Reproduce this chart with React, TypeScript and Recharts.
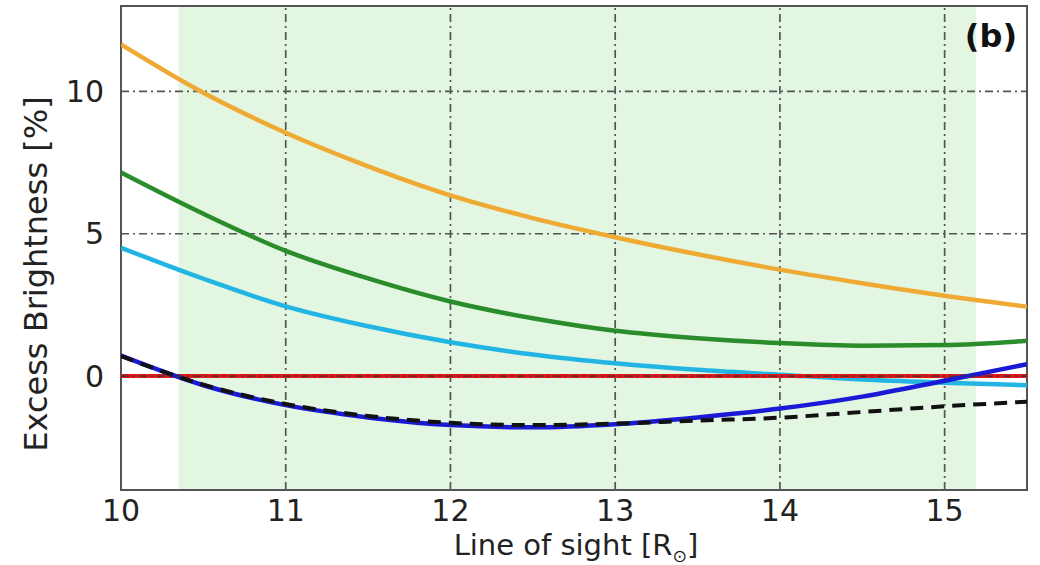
import React from "react";
import {
  LineChart,
  Line,
  XAxis,
  YAxis,
  ReferenceArea,
  ReferenceLine,
} from "recharts";

const losValues = [10, 10.5, 11, 11.5, 12, 12.5, 13, 13.5, 14, 14.5, 15, 15.5];
const orangeValues = [11.65, 9.95, 8.55, 7.37, 6.35, 5.55, 4.88, 4.28, 3.74, 3.26, 2.82, 2.44];
const greenValues = [7.15, 5.7, 4.4, 3.43, 2.62, 2.03, 1.59, 1.33, 1.16, 1.07, 1.09, 1.24];
const cyanValues = [4.51, 3.42, 2.45, 1.75, 1.19, 0.76, 0.45, 0.22, 0.05, -0.12, -0.23, -0.32];
const blueValues = [0.72, -0.32, -1.02, -1.45, -1.72, -1.8, -1.69, -1.45, -1.14, -0.72, -0.16, 0.42];
const dashedValues = [0.7, -0.3, -0.98, -1.4, -1.64, -1.72, -1.67, -1.56, -1.46, -1.26, -1.06, -0.9];
const redValues = [0, 0, 0, 0, 0, 0, 0, 0, 0, 0, 0, 0];

const xTicks = [10, 11, 12, 13, 14, 15];
const yTicks = [0, 5, 10];
const xGrid = [11, 12, 13, 14, 15];
const yGrid = [5, 10];
const shadeRange = [10.35, 15.19];
const xDomain = [10, 15.5];
const yDomain = [-4, 13];

const data = losValues.map((x, i) => ({
  x,
  orange: orangeValues[i],
  green: greenValues[i],
  cyan: cyanValues[i],
  blue: blueValues[i],
  dashed: dashedValues[i],
  red: redValues[i],
}));

const FONT = "'DejaVu Sans', sans-serif";
const GRID_COLOR = "#555";
const GRID_DASH = "8 4 2 4";

export default function App() {
  return (
    <div style={{ position: "absolute", left: 0, top: 0, width: 1040, height: 565, background: "#fff" }}>
      <LineChart
        width={1040}
        height={565}
        data={data}
        margin={{ top: 6, right: 13, bottom: 15, left: 21 }}
      >
        <XAxis
          dataKey="x"
          type="number"
          domain={xDomain}
          ticks={xTicks}
          allowDataOverflow
          height={60}
          axisLine={false}
          tickLine={false}
          tickMargin={4}
          tick={{ fontSize: 30, fill: "#222", fontFamily: FONT }}
        />
        <YAxis
          type="number"
          domain={yDomain}
          ticks={yTicks}
          allowDataOverflow
          width={100}
          axisLine={false}
          tickLine={false}
          tickMargin={11}
          tick={{ fontSize: 30, fill: "#222", fontFamily: FONT }}
        />
        <ReferenceArea
          x1={shadeRange[0]}
          x2={shadeRange[1]}
          y1={yDomain[0]}
          y2={yDomain[1]}
          fill="#e2f6e2"
          fillOpacity={1}
          stroke="none"
        />
        {xGrid.map((v) => (
          <ReferenceLine key={"gx" + v} x={v} stroke={GRID_COLOR} strokeWidth={1.7} strokeDasharray={GRID_DASH} />
        ))}
        {yGrid.map((v) => (
          <ReferenceLine key={"gy" + v} y={v} stroke={GRID_COLOR} strokeWidth={1.7} strokeDasharray={GRID_DASH} />
        ))}
        <Line type="monotone" dataKey="orange" stroke="#eeaa33" strokeWidth={4.5} dot={false} isAnimationActive={false} />
        <Line type="monotone" dataKey="green" stroke="#2a8c2a" strokeWidth={4.5} dot={false} isAnimationActive={false} />
        <Line type="monotone" dataKey="cyan" stroke="#22b5e3" strokeWidth={4.5} dot={false} isAnimationActive={false} />
        <Line type="linear" dataKey="red" stroke="#e01818" strokeWidth={4} dot={false} isAnimationActive={false} />
        <Line type="monotone" dataKey="blue" stroke="#1a1ad6" strokeWidth={4.5} dot={false} isAnimationActive={false} />
        <Line type="monotone" dataKey="dashed" stroke="#111" strokeWidth={4} strokeDasharray="13 8" dot={false} isAnimationActive={false} />
        <ReferenceLine y={0} stroke="#333" strokeWidth={1.4} strokeDasharray={GRID_DASH} />
        <ReferenceArea
          x1={xDomain[0]}
          x2={xDomain[1]}
          y1={yDomain[0]}
          y2={yDomain[1]}
          fill="none"
          stroke="#555"
          strokeWidth={2}
        />
      </LineChart>
      <div
        style={{
          position: "absolute",
          left: 36,
          top: 274,
          transform: "translate(-50%, -50%) rotate(-90deg)",
          whiteSpace: "nowrap",
          fontFamily: FONT,
          fontSize: 32,
          lineHeight: 1,
          color: "#222",
        }}
      >
        Excess Brightness [%]
      </div>
      <div
        style={{
          position: "absolute",
          left: 376,
          width: 400,
          top: 531,
          textAlign: "center",
          whiteSpace: "nowrap",
          fontFamily: FONT,
          fontSize: 29,
          lineHeight: 1,
          color: "#222",
        }}
      >
        Line of sight [R
        <span style={{ fontSize: "0.6em", position: "relative", top: "0.4em" }}>⊙</span>]
      </div>
      <div
        style={{
          position: "absolute",
          right: 23,
          top: 20,
          whiteSpace: "nowrap",
          fontFamily: FONT,
          fontSize: 32,
          fontWeight: "bold",
          lineHeight: 1,
          color: "#111",
        }}
      >
        (b)
      </div>
    </div>
  );
}
